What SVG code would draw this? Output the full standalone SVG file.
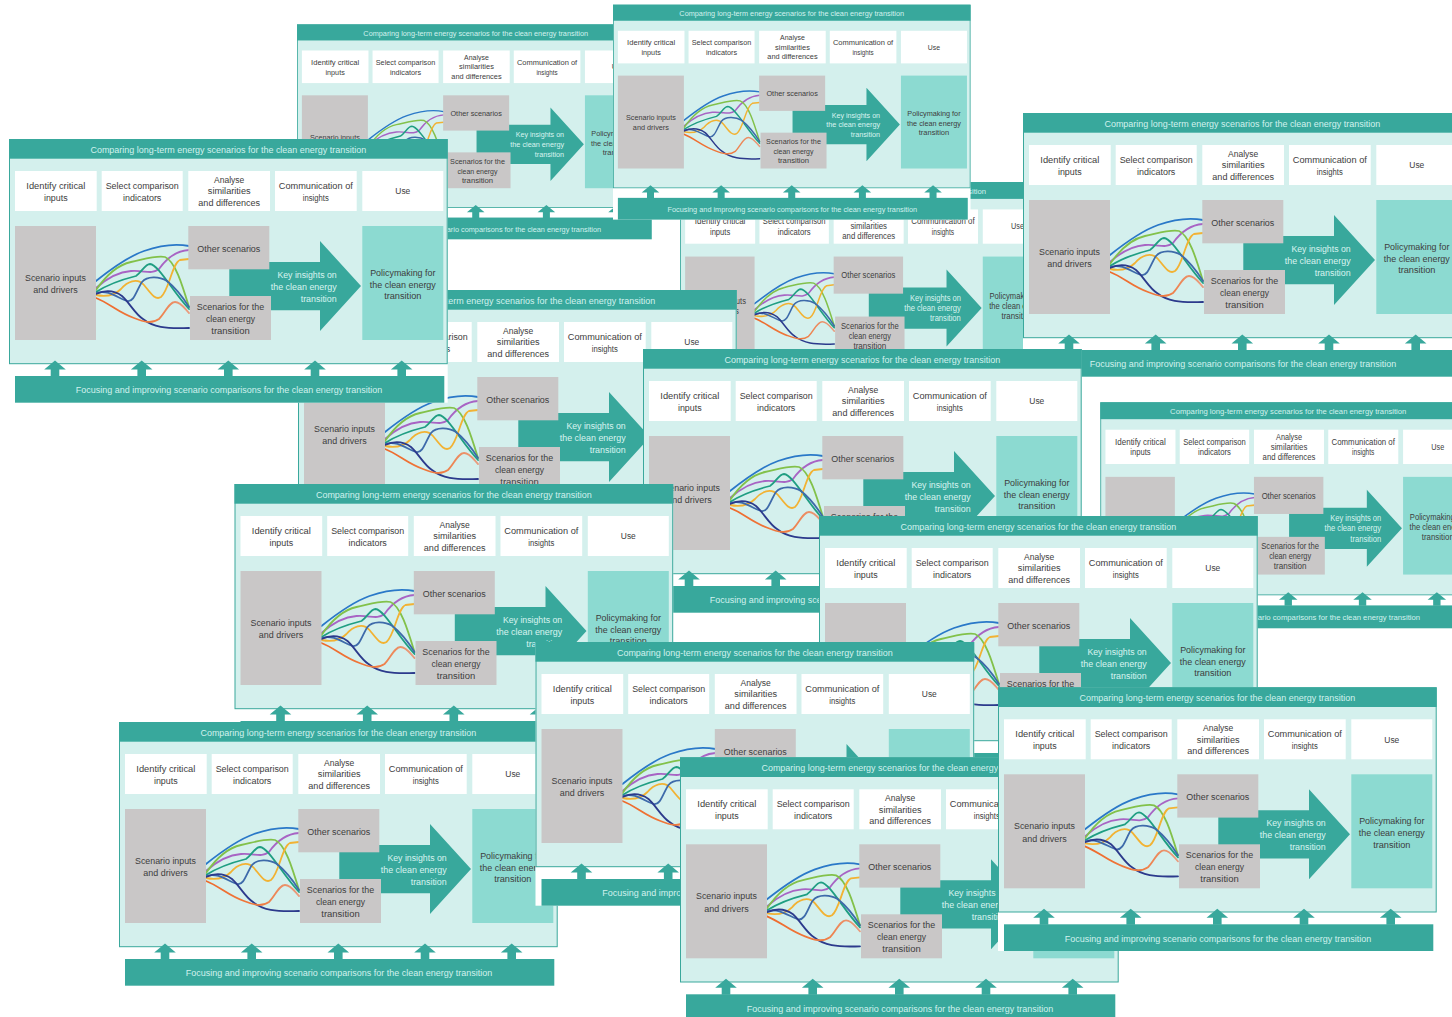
<svg xmlns="http://www.w3.org/2000/svg" xmlns:xlink="http://www.w3.org/1999/xlink" width="1452" height="1017" viewBox="0 0 1452 1017">
<style>
.bg{fill:#ffffff}
.panel{fill:#d4f0ed;stroke:#3aa89c;stroke-width:1}
.teal{fill:#38a89c}
.wbox{fill:#ffffff}
.gbox{fill:#c9c7c7}
.pbox{fill:#8cdad1}
text{font-family:"Liberation Sans",Arial,sans-serif}
.t{font-size:9.6px;fill:#3d3d3d;text-anchor:middle}
.hd{font-size:8.8px;fill:#d2f2ee;text-anchor:middle}
.ar{font-size:9.6px;fill:#d8f4f0;text-anchor:end}
.cv{fill:none;stroke-width:1.8;stroke-linecap:round}
</style>
<defs>
<linearGradient id="og" gradientUnits="userSpaceOnUse" x1="87" y1="0" x2="180" y2="0">
<stop offset="0" stop-color="#ee6a2c"/>
<stop offset="0.6" stop-color="#ef7b40"/>
<stop offset="1" stop-color="#e99d80"/>
</linearGradient>
<path id="up" d="M0,0 L10.8,9 H4.3 V16 H-4.3 V9 H-10.8 Z" class="teal"/>
<g id="dg">
<rect class="bg" x="0" y="0" width="438.7" height="263.7"/>
<g id="panel">
<rect class="panel" x="0.5" y="0.5" width="437.7" height="224.2"/>
<rect class="teal" x="0" y="0" width="438.7" height="19.7"/>
<text class="hd" x="219.3" y="14" textLength="275.7" lengthAdjust="spacingAndGlyphs">Comparing long-term energy scenarios for the clean energy transition</text>
</g>
<g id="step-identify">
<rect class="wbox" x="6" y="32" width="81.7" height="40"/>
<text class="t" x="46.8" y="49.5" textLength="59" lengthAdjust="spacingAndGlyphs">Identify critical</text>
<text class="t" x="46.8" y="62" textLength="23.7" lengthAdjust="spacingAndGlyphs">inputs</text>
</g>
<g id="step-select">
<rect class="wbox" x="92.7" y="32" width="81" height="40"/>
<text class="t" x="133.2" y="49.5" textLength="73" lengthAdjust="spacingAndGlyphs">Select comparison</text>
<text class="t" x="133.2" y="62" textLength="38.3" lengthAdjust="spacingAndGlyphs">indicators</text>
</g>
<g id="step-analyse">
<rect class="wbox" x="179.3" y="32" width="81.7" height="40"/>
<text class="t" x="220.2" y="43.5" textLength="30.3" lengthAdjust="spacingAndGlyphs">Analyse</text>
<text class="t" x="220.2" y="55.3" textLength="42.7" lengthAdjust="spacingAndGlyphs">similarities</text>
<text class="t" x="220.2" y="67" textLength="61.7" lengthAdjust="spacingAndGlyphs">and differences</text>
</g>
<g id="step-communication">
<rect class="wbox" x="266" y="32" width="81.7" height="40"/>
<text class="t" x="306.8" y="49.5" textLength="74" lengthAdjust="spacingAndGlyphs">Communication of</text>
<text class="t" x="306.8" y="62" textLength="26" lengthAdjust="spacingAndGlyphs">insights</text>
</g>
<g id="step-use">
<rect class="wbox" x="353.3" y="32" width="81" height="40"/>
<text class="t" x="393.8" y="55.3" textLength="15" lengthAdjust="spacingAndGlyphs">Use</text>
</g>
<g id="connectors">
<path class="teal" d="M220.3,123 H311 V102 L352,147 L311,192 V171.3 H220.3 Z"/>
<text class="ar" x="327.7" y="138.6" textLength="59.3" lengthAdjust="spacingAndGlyphs">Key insights on</text>
<text class="ar" x="327.7" y="150.6" textLength="66" lengthAdjust="spacingAndGlyphs">the clean energy</text>
<text class="ar" x="327.7" y="162.6" textLength="36" lengthAdjust="spacingAndGlyphs">transition</text>
<path class="cv" stroke="#2a78c8" d="M87,142 C102,130 118,118 135,112 S165,104 180,107"/>
<path class="cv" stroke="#a864c4" d="M87,149 C97,140 108,133 122,132 S142,136 150,130 C157,120 166,112 180,111"/>
<path class="cv" stroke="#82c14a" d="M87,151 C96,138 108,126 122,123 S148,116 156,118 C166,122 173,145 180,168"/>
<path class="cv" stroke="#1f9e82" d="M87,153 C98,146 115,140 127,137 C133,133 136,125 141,125 C150,126 163,152 180,170"/>
<path class="cv" stroke="#f2b233" d="M87,156 C97,158 106,156 112,150 C118,143 128,138 135,146 C141,153 146,162 152,158 C160,152 163,124 171,121 L180,120"/>
<path class="cv" stroke="#3e6aaa" d="M87,154 C100,150 110,160 118,162 C125,164 128,150 133,143 C138,137 150,137 158,142 C168,150 175,160 180,168"/>
<path class="cv" stroke="#2c3a8c" d="M87,155 C98,150 106,152 113,157 C120,163 126,175 134,180 C144,188 156,190 180,189"/>
<path class="cv" stroke="url(#og)" d="M87,159 C100,164 110,174 125,179 C135,183 143,185 150,180 C156,174 160,163 166,163 C172,163 176,170 180,174"/>
<use href="#up" x="46" y="221.5"/>
<use href="#up" x="132.7" y="221.5"/>
<use href="#up" x="219.3" y="221.5"/>
<use href="#up" x="306" y="221.5"/>
<use href="#up" x="392.7" y="221.5"/>
</g>
<g id="inputs">
<rect class="gbox" x="6" y="87" width="81" height="114"/>
<text class="t" x="46.5" y="142" textLength="61" lengthAdjust="spacingAndGlyphs">Scenario inputs</text>
<text class="t" x="46.5" y="154.3" textLength="44.3" lengthAdjust="spacingAndGlyphs">and drivers</text>
</g>
<g id="other">
<rect class="gbox" x="179.3" y="87" width="81" height="43.3"/>
<text class="t" x="219.8" y="112.6" textLength="63" lengthAdjust="spacingAndGlyphs">Other scenarios</text>
</g>
<g id="clean">
<rect class="gbox" x="181" y="157" width="81" height="44"/>
<text class="t" x="221.5" y="171" textLength="67.3" lengthAdjust="spacingAndGlyphs">Scenarios for the</text>
<text class="t" x="221.5" y="183" textLength="49" lengthAdjust="spacingAndGlyphs">clean energy</text>
<text class="t" x="221.5" y="194.5" textLength="38.3" lengthAdjust="spacingAndGlyphs">transition</text>
</g>
<g id="policy">
<rect class="pbox" x="353.3" y="87" width="81" height="114"/>
<text class="t" x="393.8" y="137" textLength="65.3" lengthAdjust="spacingAndGlyphs">Policymaking for</text>
<text class="t" x="393.8" y="148.7" textLength="66" lengthAdjust="spacingAndGlyphs">the clean energy</text>
<text class="t" x="393.8" y="160.3" textLength="37.3" lengthAdjust="spacingAndGlyphs">transition</text>
</g>
<g id="focus">
<rect class="teal" x="6" y="237" width="429.3" height="26.7"/>
<text class="hd" x="220" y="254.3" textLength="306.3" lengthAdjust="spacingAndGlyphs">Focusing and improving scenario comparisons for the clean energy transition</text>
</g>
</g>
</defs>
<g id="copy-a"><use href="#dg" transform="translate(297,24.4) scale(0.815)"/></g>
<g id="copy-c"><use href="#dg" transform="translate(680,182) scale(0.857)"/></g>
<g id="copy-b"><use href="#dg" transform="translate(613,4.7) scale(0.815)"/></g>
<g id="copy-d"><use href="#dg" transform="translate(1023,113)"/></g>
<g id="copy-f"><use href="#dg" transform="translate(298,290)"/></g>
<g id="copy-e"><use href="#dg" transform="translate(9,139)"/></g>
<g id="copy-g"><use href="#dg" transform="translate(643,349)"/></g>
<g id="copy-h"><use href="#dg" transform="translate(234.5,484)"/></g>
<g id="copy-i"><use href="#dg" transform="translate(1100.3,402.3) scale(0.857)"/></g>
<g id="copy-j"><use href="#dg" transform="translate(819,516)"/></g>
<g id="copy-k"><use href="#dg" transform="translate(119,722)"/></g>
<g id="copy-l"><use href="#dg" transform="translate(535.5,642)"/></g>
<g id="copy-m"><use href="#dg" transform="translate(680,757.3)"/></g>
<g id="copy-n"><use href="#dg" transform="translate(998,687.3)"/></g>
</svg>
